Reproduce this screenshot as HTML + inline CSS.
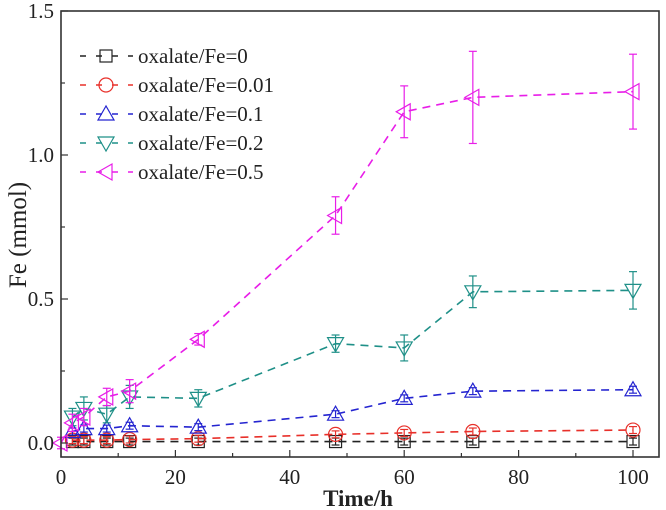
<!DOCTYPE html>
<html><head><meta charset="utf-8"><style>
body{margin:0;background:#fff;}
svg{display:block;font-family:"Liberation Serif",serif;}
</style></head><body>
<svg id="c" width="666" height="510" viewBox="0 0 666 510"></svg>
<script>
const times=[2,4,8,12,24,48,60,72,100];
const s0=[0.005,0.005,0.005,0.005,0.005,0.005,0.005,0.005,0.005];
const s001=[0.01,0.01,0.01,0.012,0.015,0.03,0.035,0.04,0.045];
const s01=[0.04,0.05,0.05,0.06,0.055,0.10,0.155,0.18,0.185];
const s02=[0.09,0.12,0.10,0.16,0.155,0.345,0.33,0.525,0.53];
const t05=[0,2,4,8,12,24,48,60,72,100];
const s05=[0.0,0.07,0.09,0.16,0.18,0.36,0.79,1.15,1.2,1.22];
const e02=[0.03,0.04,0.03,0.04,0.03,0.03,0.045,0.055,0.065];
const e05=[0.02,0.03,0.03,0.03,0.04,0.02,0.065,0.09,0.16,0.13];
const xTicks=[0,20,40,60,80,100];
const yTicks=[0.0,0.5,1.0,1.5];
const labels=["oxalate/Fe=0","oxalate/Fe=0.01","oxalate/Fe=0.1","oxalate/Fe=0.2","oxalate/Fe=0.5"];
const colors=["#222","#e8302a","#2424d0","#1f9088","#e81ee8"];
const NS="http://www.w3.org/2000/svg";
const svg=document.getElementById('c');
const X=v=>61+v*5.72, Y=v=>443-v*288;
function el(t,a,p){const e=document.createElementNS(NS,t);for(const k in a)e.setAttribute(k,a[k]);(p||svg).appendChild(e);return e;}
function marker(k,x,y,c,g){
 const r=7;let m;
 if(k==0)m=el('rect',{x:x-6,y:y-6,width:12,height:12,fill:'none',stroke:c,'stroke-width':1.2},g);
 else if(k==1)m=el('circle',{cx:x,cy:y,r:r,fill:'none',stroke:c,'stroke-width':1.2},g);
 else if(k==2)m=el('polygon',{points:`${x},${y-8} ${x-8},${y+6} ${x+8},${y+6}`,fill:'none',stroke:c,'stroke-width':1.2},g);
 else if(k==3)m=el('polygon',{points:`${x},${y+8} ${x-8},${y-6} ${x+8},${y-6}`,fill:'none',stroke:c,'stroke-width':1.2},g);
 else m=el('polygon',{points:`${x-8},${y} ${x+6},${y-8} ${x+6},${y+8}`,fill:'none',stroke:c,'stroke-width':1.2},g);
 return m;
}
const series=[[times,s0,null],[times,s001,null],[times,s01,null],[times,s02,e02],[t05,s05,e05]];
series.forEach((s,k)=>{
 const g=el('g',{});
 
 
 const c=colors[k];
 el('polyline',{points:s[0].map((t,i)=>X(t)+','+Y(s[1][i])).join(' '),fill:'none',stroke:c,'stroke-width':1.6,'stroke-dasharray':'8,6'},g);
 s[0].forEach((t,i)=>{
  const x=X(t),y=Y(s[1][i]);
  const e=s[2]?s[2][i]:0.012;
  el('line',{x1:x,y1:Y(s[1][i]+e),x2:x,y2:Y(s[1][i]-e),stroke:c,'stroke-width':1.2},g);
  el('line',{x1:x-4,y1:Y(s[1][i]+e),x2:x+4,y2:Y(s[1][i]+e),stroke:c,'stroke-width':1.2},g);
  el('line',{x1:x-4,y1:Y(s[1][i]-e),x2:x+4,y2:Y(s[1][i]-e),stroke:c,'stroke-width':1.2},g);
  const m=marker(k,x,y,c,g);
  
  
 });
});
el('rect',{x:61,y:11,width:598,height:446,fill:'none',stroke:'#333','stroke-width':1.6});
xTicks.forEach(v=>{
 el('line',{x1:X(v),y1:457,x2:X(v),y2:450,stroke:'#333','stroke-width':1.2});
 if(v<100)el('line',{x1:X(v+10),y1:457,x2:X(v+10),y2:453,stroke:'#333','stroke-width':1.2});
 const t=el('text',{x:X(v),y:484,'text-anchor':'middle','font-size':21,fill:'#222'});t.textContent=v;
 
 
});
yTicks.forEach(v=>{
 el('line',{x1:61,y1:Y(v),x2:68,y2:Y(v),stroke:'#333','stroke-width':1.2});
 if(v<1.5)el('line',{x1:61,y1:Y(v+0.25),x2:65,y2:Y(v+0.25),stroke:'#333','stroke-width':1.2});
 const t=el('text',{x:54,y:Y(v)+7,'text-anchor':'end','font-size':21,fill:'#222'});t.textContent=v.toFixed(1);
 
 
});
const xt=el('text',{x:358,y:506,'text-anchor':'middle','font-size':23,'font-weight':'bold',fill:'#222'});xt.textContent='Time/h';


const yt=el('text',{x:0,y:0,transform:'translate(26,235) rotate(-90)','text-anchor':'middle','font-size':25,fill:'#222'});yt.textContent='Fe (mmol)';


labels.forEach((l,k)=>{
 const g=el('g',{});
 
 
 const y=56+k*29;
 el('line',{x1:80,y1:y,x2:133,y2:y,stroke:colors[k],'stroke-width':1.5,'stroke-dasharray':'6,10'},g);
 marker(k,106,y,colors[k],g);
 const t=el('text',{x:138,y:y+7,'font-size':21,fill:'#222'},g);t.textContent=l;
});
</script>
</body></html>
